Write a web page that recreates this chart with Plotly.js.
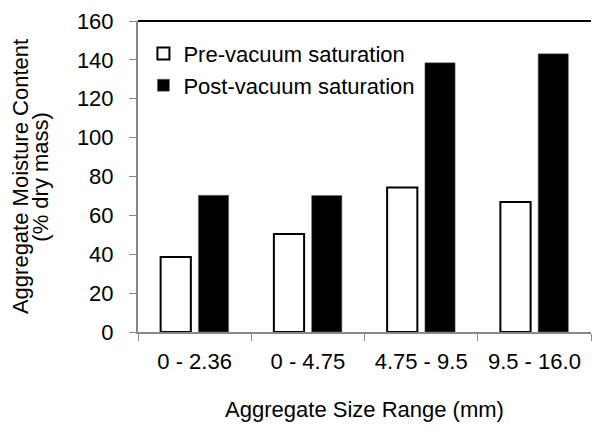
<!DOCTYPE html>
<html>
<head>
<meta charset="utf-8">
<script src="https://cdn.plot.ly/plotly-3.0.1.min.js"></script>
<style>html,body{margin:0;padding:0;background:#fff;}#chart{width:592px;height:430px;}</style>
</head>
<body>
<div id="chart"></div>
<script>
const categories = ["0 - 2.36", "0 - 4.75", "4.75 - 9.5", "9.5 - 16.0"];
const preVacuum = [38.6, 50.4, 74.3, 66.9];
const postVacuum = [70.3, 70.2, 138.5, 143.1];
const yTicks = [0, 20, 40, 60, 80, 100, 120, 140, 160];

const font = {family: "Liberation Sans, Arial, sans-serif", size: 22, color: "#000"};

const traces = [
  {type: "bar", name: "Pre-vacuum saturation", x: categories, y: preVacuum,
   marker: {color: "#fff", line: {color: "#000", width: 2}}},
  {type: "bar", name: "Post-vacuum saturation", x: categories, y: postVacuum,
   marker: {color: "#000", line: {color: "#666", width: 0.5}}}
];

const layout = {
  width: 592, height: 430,
  margin: {l: 138, r: 1, t: 21, b: 98},
  paper_bgcolor: "#fff", plot_bgcolor: "#fff",
  font: font,
  showlegend: true,
  legend: {x: 0.012, y: 0.962, xanchor: "left", yanchor: "top", bgcolor: "rgba(0,0,0,0)",
           font: font, itemwidth: 30, tracegroupgap: 0},
  bargap: 0.333, bargroupgap: 0.2,
  xaxis: {
    type: "category", tickson: "boundaries", ticks: "outside", ticklen: 7, tickcolor: "#888",
    showline: true, linecolor: "#888", linewidth: 2, showgrid: false, zeroline: false,
    tickfont: font, ticklabelstandoff: 9,
    title: {text: "Aggregate Size Range (mm)", font: font, standoff: 28}
  },
  yaxis: {
    range: [0, 160], tickvals: yTicks, ticktext: yTicks.map(String),
    ticks: "outside", ticklen: 7, tickcolor: "#888",
    showline: true, linecolor: "#888", linewidth: 2, showgrid: false, zeroline: false,
    tickfont: font, ticklabelstandoff: 11,
    title: {text: "Aggregate Moisture Content", font: font, standoff: 42}
  },
  annotations: [{text: "(% dry mass)", xref: "paper", yref: "paper", x: -0.216, y: 0.5,
                 xanchor: "center", yanchor: "middle", textangle: -90, showarrow: false, font: font}],
  shapes: [{type: "line", xref: "paper", yref: "paper", x0: 0, x1: 1, y0: 1, y1: 1,
            line: {color: "#000", width: 2}}]
};

Plotly.newPlot("chart", traces, layout, {displayModeBar: false, staticPlot: true});
</script>
</body>
</html>
